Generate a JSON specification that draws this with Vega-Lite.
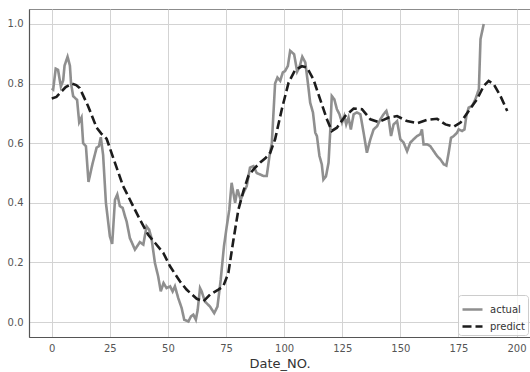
{
  "$schema": "https://vega.github.io/schema/vega-lite/v6.json",
  "width": 501,
  "height": 328,
  "autosize": "none",
  "padding": {"left": 29, "top": 9, "right": 0, "bottom": 35},
  "background": "white",
  "config": {
    "view": {"stroke": "#8c8c8c", "strokeWidth": 1},
    "font": "DejaVu Sans",
    "axis": {
      "domainColor": "#555555",
      "domainWidth": 1.2,
      "gridColor": "#d3d3d3",
      "gridWidth": 1,
      "ticks": false,
      "labelColor": "#555555",
      "labelFont": "DejaVu Sans",
      "labelFontSize": 10,
      "titleFont": "DejaVu Sans",
      "titleColor": "#333333"
    }
  },
  "data": {
    "values": [
      {"x": 0, "y": 0.784, "s": "actual"},
      {"x": 0.6, "y": 0.78, "s": "actual"},
      {"x": 1.7, "y": 0.85, "s": "actual"},
      {"x": 2.7, "y": 0.846, "s": "actual"},
      {"x": 3.9, "y": 0.79, "s": "actual"},
      {"x": 4.9, "y": 0.81, "s": "actual"},
      {"x": 5.5, "y": 0.86, "s": "actual"},
      {"x": 6.8, "y": 0.89, "s": "actual"},
      {"x": 7.8, "y": 0.86, "s": "actual"},
      {"x": 8.3, "y": 0.8, "s": "actual"},
      {"x": 9.2, "y": 0.758, "s": "actual"},
      {"x": 10.9, "y": 0.745, "s": "actual"},
      {"x": 11.8, "y": 0.67, "s": "actual"},
      {"x": 12.8, "y": 0.686, "s": "actual"},
      {"x": 13.5, "y": 0.6, "s": "actual"},
      {"x": 14.7, "y": 0.59, "s": "actual"},
      {"x": 15.8, "y": 0.47, "s": "actual"},
      {"x": 17.5, "y": 0.53, "s": "actual"},
      {"x": 19.3, "y": 0.585, "s": "actual"},
      {"x": 20.3, "y": 0.59, "s": "actual"},
      {"x": 21.1, "y": 0.62, "s": "actual"},
      {"x": 22.1, "y": 0.56, "s": "actual"},
      {"x": 23.3, "y": 0.4, "s": "actual"},
      {"x": 25, "y": 0.288, "s": "actual"},
      {"x": 26, "y": 0.262, "s": "actual"},
      {"x": 27.2, "y": 0.41, "s": "actual"},
      {"x": 28.2, "y": 0.428, "s": "actual"},
      {"x": 29.3, "y": 0.389, "s": "actual"},
      {"x": 30.5, "y": 0.383, "s": "actual"},
      {"x": 31.5, "y": 0.355, "s": "actual"},
      {"x": 32.2, "y": 0.338, "s": "actual"},
      {"x": 33.6, "y": 0.282, "s": "actual"},
      {"x": 35.8, "y": 0.243, "s": "actual"},
      {"x": 37.9, "y": 0.268, "s": "actual"},
      {"x": 39.4, "y": 0.26, "s": "actual"},
      {"x": 40.8, "y": 0.321, "s": "actual"},
      {"x": 41.9, "y": 0.31, "s": "actual"},
      {"x": 42.9, "y": 0.282, "s": "actual"},
      {"x": 44.4, "y": 0.198, "s": "actual"},
      {"x": 45.8, "y": 0.153, "s": "actual"},
      {"x": 46.9, "y": 0.103, "s": "actual"},
      {"x": 48.1, "y": 0.131, "s": "actual"},
      {"x": 49.4, "y": 0.114, "s": "actual"},
      {"x": 50.9, "y": 0.12, "s": "actual"},
      {"x": 52, "y": 0.103, "s": "actual"},
      {"x": 53, "y": 0.12, "s": "actual"},
      {"x": 54.4, "y": 0.081, "s": "actual"},
      {"x": 55.9, "y": 0.047, "s": "actual"},
      {"x": 57, "y": 0.008, "s": "actual"},
      {"x": 58.8, "y": 0.002, "s": "actual"},
      {"x": 59.9, "y": 0.019, "s": "actual"},
      {"x": 60.9, "y": 0.025, "s": "actual"},
      {"x": 62, "y": 0.008, "s": "actual"},
      {"x": 62.8, "y": 0.041, "s": "actual"},
      {"x": 63.8, "y": 0.114, "s": "actual"},
      {"x": 64.5, "y": 0.103, "s": "actual"},
      {"x": 65.9, "y": 0.069, "s": "actual"},
      {"x": 68.1, "y": 0.052, "s": "actual"},
      {"x": 69.9, "y": 0.03, "s": "actual"},
      {"x": 71.3, "y": 0.052, "s": "actual"},
      {"x": 72.7, "y": 0.142, "s": "actual"},
      {"x": 74.1, "y": 0.254, "s": "actual"},
      {"x": 75.3, "y": 0.321, "s": "actual"},
      {"x": 76.4, "y": 0.377, "s": "actual"},
      {"x": 77.4, "y": 0.467, "s": "actual"},
      {"x": 78.9, "y": 0.4, "s": "actual"},
      {"x": 79.9, "y": 0.445, "s": "actual"},
      {"x": 81.3, "y": 0.41, "s": "actual"},
      {"x": 82.5, "y": 0.434, "s": "actual"},
      {"x": 83.9, "y": 0.456, "s": "actual"},
      {"x": 85.3, "y": 0.518, "s": "actual"},
      {"x": 86.8, "y": 0.523, "s": "actual"},
      {"x": 88.2, "y": 0.5, "s": "actual"},
      {"x": 89.7, "y": 0.495, "s": "actual"},
      {"x": 91.1, "y": 0.49, "s": "actual"},
      {"x": 92.5, "y": 0.49, "s": "actual"},
      {"x": 93.7, "y": 0.557, "s": "actual"},
      {"x": 94.7, "y": 0.6, "s": "actual"},
      {"x": 95.4, "y": 0.7, "s": "actual"},
      {"x": 96.1, "y": 0.8, "s": "actual"},
      {"x": 97.1, "y": 0.82, "s": "actual"},
      {"x": 98.3, "y": 0.809, "s": "actual"},
      {"x": 99.4, "y": 0.837, "s": "actual"},
      {"x": 100.4, "y": 0.842, "s": "actual"},
      {"x": 101.6, "y": 0.859, "s": "actual"},
      {"x": 102.6, "y": 0.91, "s": "actual"},
      {"x": 104.3, "y": 0.898, "s": "actual"},
      {"x": 105.6, "y": 0.84, "s": "actual"},
      {"x": 106.6, "y": 0.855, "s": "actual"},
      {"x": 107.8, "y": 0.89, "s": "actual"},
      {"x": 109.1, "y": 0.871, "s": "actual"},
      {"x": 110.2, "y": 0.803, "s": "actual"},
      {"x": 111.2, "y": 0.736, "s": "actual"},
      {"x": 112.4, "y": 0.703, "s": "actual"},
      {"x": 113.4, "y": 0.635, "s": "actual"},
      {"x": 114.1, "y": 0.624, "s": "actual"},
      {"x": 115.2, "y": 0.557, "s": "actual"},
      {"x": 116.2, "y": 0.529, "s": "actual"},
      {"x": 116.9, "y": 0.478, "s": "actual"},
      {"x": 118, "y": 0.489, "s": "actual"},
      {"x": 119.1, "y": 0.534, "s": "actual"},
      {"x": 119.8, "y": 0.635, "s": "actual"},
      {"x": 120.5, "y": 0.758, "s": "actual"},
      {"x": 121.6, "y": 0.747, "s": "actual"},
      {"x": 122.7, "y": 0.714, "s": "actual"},
      {"x": 123.8, "y": 0.697, "s": "actual"},
      {"x": 124.9, "y": 0.669, "s": "actual"},
      {"x": 125.9, "y": 0.691, "s": "actual"},
      {"x": 126.7, "y": 0.663, "s": "actual"},
      {"x": 127.7, "y": 0.686, "s": "actual"},
      {"x": 128.7, "y": 0.646, "s": "actual"},
      {"x": 129.9, "y": 0.697, "s": "actual"},
      {"x": 131.3, "y": 0.703, "s": "actual"},
      {"x": 132.8, "y": 0.697, "s": "actual"},
      {"x": 134.2, "y": 0.635, "s": "actual"},
      {"x": 135.6, "y": 0.568, "s": "actual"},
      {"x": 137.1, "y": 0.613, "s": "actual"},
      {"x": 138.5, "y": 0.646, "s": "actual"},
      {"x": 140, "y": 0.657, "s": "actual"},
      {"x": 141.4, "y": 0.68, "s": "actual"},
      {"x": 142.8, "y": 0.697, "s": "actual"},
      {"x": 144, "y": 0.708, "s": "actual"},
      {"x": 145, "y": 0.68, "s": "actual"},
      {"x": 146, "y": 0.624, "s": "actual"},
      {"x": 147.1, "y": 0.663, "s": "actual"},
      {"x": 148.6, "y": 0.674, "s": "actual"},
      {"x": 150, "y": 0.613, "s": "actual"},
      {"x": 151.4, "y": 0.602, "s": "actual"},
      {"x": 152.9, "y": 0.573, "s": "actual"},
      {"x": 154.3, "y": 0.602, "s": "actual"},
      {"x": 155.7, "y": 0.613, "s": "actual"},
      {"x": 157.2, "y": 0.624, "s": "actual"},
      {"x": 158.6, "y": 0.63, "s": "actual"},
      {"x": 159.3, "y": 0.646, "s": "actual"},
      {"x": 160, "y": 0.596, "s": "actual"},
      {"x": 161.5, "y": 0.596, "s": "actual"},
      {"x": 162.9, "y": 0.59, "s": "actual"},
      {"x": 164.4, "y": 0.573, "s": "actual"},
      {"x": 165.8, "y": 0.557, "s": "actual"},
      {"x": 167.2, "y": 0.546, "s": "actual"},
      {"x": 168.7, "y": 0.529, "s": "actual"},
      {"x": 169.8, "y": 0.525, "s": "actual"},
      {"x": 170.8, "y": 0.568, "s": "actual"},
      {"x": 171.8, "y": 0.618, "s": "actual"},
      {"x": 173, "y": 0.624, "s": "actual"},
      {"x": 174.4, "y": 0.635, "s": "actual"},
      {"x": 175.1, "y": 0.646, "s": "actual"},
      {"x": 176.6, "y": 0.641, "s": "actual"},
      {"x": 177.6, "y": 0.646, "s": "actual"},
      {"x": 178.4, "y": 0.691, "s": "actual"},
      {"x": 179.4, "y": 0.719, "s": "actual"},
      {"x": 180.9, "y": 0.725, "s": "actual"},
      {"x": 182.3, "y": 0.747, "s": "actual"},
      {"x": 183.8, "y": 0.781, "s": "actual"},
      {"x": 184.5, "y": 0.949, "s": "actual"},
      {"x": 185.9, "y": 1.0, "s": "actual"},
      {"x": 0, "y": 0.75, "s": "predict"},
      {"x": 2, "y": 0.755, "s": "predict"},
      {"x": 4, "y": 0.772, "s": "predict"},
      {"x": 6, "y": 0.788, "s": "predict"},
      {"x": 8.6, "y": 0.8, "s": "predict"},
      {"x": 10.5, "y": 0.795, "s": "predict"},
      {"x": 12, "y": 0.785, "s": "predict"},
      {"x": 15.6, "y": 0.725, "s": "predict"},
      {"x": 19.3, "y": 0.652, "s": "predict"},
      {"x": 21.3, "y": 0.632, "s": "predict"},
      {"x": 23.6, "y": 0.615, "s": "predict"},
      {"x": 27.2, "y": 0.534, "s": "predict"},
      {"x": 30.7, "y": 0.456, "s": "predict"},
      {"x": 34.3, "y": 0.4, "s": "predict"},
      {"x": 37.9, "y": 0.344, "s": "predict"},
      {"x": 41.5, "y": 0.293, "s": "predict"},
      {"x": 44.4, "y": 0.266, "s": "predict"},
      {"x": 48, "y": 0.232, "s": "predict"},
      {"x": 50.9, "y": 0.187, "s": "predict"},
      {"x": 55.2, "y": 0.136, "s": "predict"},
      {"x": 58, "y": 0.109, "s": "predict"},
      {"x": 62.4, "y": 0.078, "s": "predict"},
      {"x": 65.3, "y": 0.07, "s": "predict"},
      {"x": 68.1, "y": 0.092, "s": "predict"},
      {"x": 71.7, "y": 0.109, "s": "predict"},
      {"x": 73.8, "y": 0.12, "s": "predict"},
      {"x": 76, "y": 0.165, "s": "predict"},
      {"x": 78.2, "y": 0.277, "s": "predict"},
      {"x": 80.3, "y": 0.377, "s": "predict"},
      {"x": 82.5, "y": 0.44, "s": "predict"},
      {"x": 84.6, "y": 0.49, "s": "predict"},
      {"x": 86.8, "y": 0.512, "s": "predict"},
      {"x": 89.7, "y": 0.535, "s": "predict"},
      {"x": 92, "y": 0.55, "s": "predict"},
      {"x": 94, "y": 0.568, "s": "predict"},
      {"x": 96.1, "y": 0.613, "s": "predict"},
      {"x": 99, "y": 0.714, "s": "predict"},
      {"x": 101.9, "y": 0.803, "s": "predict"},
      {"x": 104.7, "y": 0.845, "s": "predict"},
      {"x": 107.6, "y": 0.858, "s": "predict"},
      {"x": 109.8, "y": 0.854, "s": "predict"},
      {"x": 112.6, "y": 0.814, "s": "predict"},
      {"x": 115.5, "y": 0.747, "s": "predict"},
      {"x": 118.4, "y": 0.68, "s": "predict"},
      {"x": 120.5, "y": 0.641, "s": "predict"},
      {"x": 122.7, "y": 0.652, "s": "predict"},
      {"x": 126.3, "y": 0.691, "s": "predict"},
      {"x": 129.9, "y": 0.716, "s": "predict"},
      {"x": 133.5, "y": 0.714, "s": "predict"},
      {"x": 137.1, "y": 0.68, "s": "predict"},
      {"x": 140.7, "y": 0.671, "s": "predict"},
      {"x": 145, "y": 0.686, "s": "predict"},
      {"x": 148.6, "y": 0.691, "s": "predict"},
      {"x": 152.9, "y": 0.674, "s": "predict"},
      {"x": 157.2, "y": 0.667, "s": "predict"},
      {"x": 161.5, "y": 0.678, "s": "predict"},
      {"x": 165.8, "y": 0.682, "s": "predict"},
      {"x": 169.4, "y": 0.663, "s": "predict"},
      {"x": 173, "y": 0.655, "s": "predict"},
      {"x": 175.9, "y": 0.669, "s": "predict"},
      {"x": 179.4, "y": 0.708, "s": "predict"},
      {"x": 183, "y": 0.747, "s": "predict"},
      {"x": 185.9, "y": 0.792, "s": "predict"},
      {"x": 188, "y": 0.809, "s": "predict"},
      {"x": 190.2, "y": 0.798, "s": "predict"},
      {"x": 193.1, "y": 0.758, "s": "predict"},
      {"x": 196, "y": 0.708, "s": "predict"}
    ]
  },
  "mark": {"type": "line", "strokeWidth": 2.6, "clip": true},
  "encoding": {
    "x": {
      "field": "x",
      "type": "quantitative",
      "scale": {"domain": [-9.8, 205.8], "nice": false, "zero": false},
      "axis": {
        "values": [0, 25, 50, 75, 100, 125, 150, 175, 200],
        "title": "Date_NO.",
        "titleFontSize": 13,
        "titleFontWeight": "normal",
        "titlePadding": 4,
        "labelPadding": 6,
        "grid": true
      }
    },
    "y": {
      "field": "y",
      "type": "quantitative",
      "scale": {"domain": [-0.05, 1.05], "nice": false, "zero": false},
      "axis": {
        "values": [0, 0.2, 0.4, 0.6, 0.8, 1.0],
        "format": ".1f",
        "title": null,
        "labelPadding": 6,
        "grid": true
      }
    },
    "color": {
      "field": "s",
      "type": "nominal",
      "scale": {"domain": ["actual", "predict"], "range": ["#8f8f8f", "#1c1c1c"]},
      "legend": {
        "title": null,
        "orient": "bottom-right",
        "offset": 2,
        "fillColor": "rgba(255,255,255,0.8)",
        "strokeColor": "#cccccc",
        "cornerRadius": 3,
        "padding": 3,
        "labelFontSize": 10,
        "labelColor": "#333333",
        "labelOffset": 6,
        "symbolType": "stroke",
        "symbolSize": 400,
        "symbolStrokeWidth": 2.6,
        "rowPadding": -5
      }
    },
    "strokeDash": {
      "field": "s",
      "type": "nominal",
      "scale": {"domain": ["actual", "predict"], "range": [[1, 0], [9, 4]]},
      "legend": null
    }
  }
}
